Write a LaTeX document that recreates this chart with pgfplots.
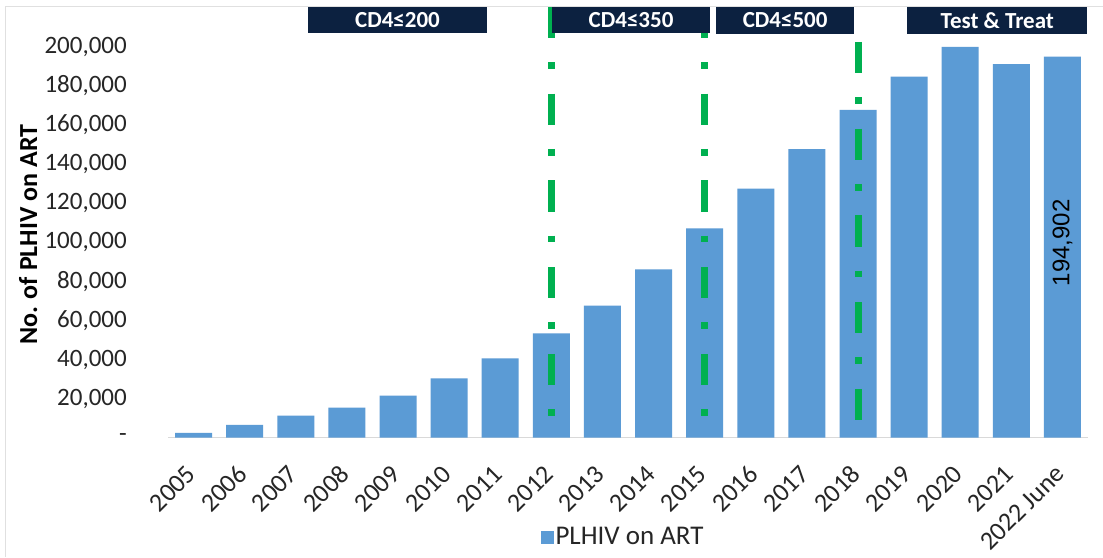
\documentclass[border=0pt]{standalone}
\usepackage{fontspec}
\setmainfont{Carlito}
\newfontfamily\arialfont{Liberation Sans}
\usepackage{pgfplots}
\pgfplotsset{compat=1.18}
\definecolor{barblue}{HTML}{5B9BD5}
\definecolor{navy}{HTML}{0C2140}
\definecolor{ggreen}{HTML}{00B050}
\begin{document}
\begin{tikzpicture}
\path[use as bounding box] (0,0) rectangle (1103pt,557pt);
\fill[white] (0,0) rectangle (1103pt,557pt);
\draw[black!12, line width=1pt] (5pt,0) -- (5pt,550pt) -- (1103pt,550pt);
\begin{axis}[
  at={(168pt,119.3pt)}, anchor=south west,
  width=920pt, height=410.6pt, scale only axis,
  xmin=-0.5, xmax=17.5, ymin=0, ymax=210000,
  clip=false,
  ybar, bar width=37pt,
  axis x line*=bottom, axis y line*=left,
  y axis line style={draw=none},
  x axis line style={draw=black!15, line width=1.5pt},
  major tick length=0pt,
  scaled y ticks=false,
  /pgf/number format/assume math mode=true,
  ytick={0,20000,...,200000},
  yticklabels={{-\hspace{5pt}},{20,000},{40,000},{60,000},{80,000},{100,000},{120,000},{140,000},{160,000},{180,000},{200,000}},
  yticklabel style={font=\fontsize{25}{30}\selectfont, color=black!85, anchor=east, inner sep=0pt, xshift=-41pt},
  xtick={0,...,17},
  xticklabels={2005,2006,2007,2008,2009,2010,2011,2012,2013,2014,2015,2016,2017,2018,2019,2020,2021,2022 June},
  xticklabel style={font=\fontsize{26}{30}\selectfont, color=black!85, xshift=-2.3pt, yshift=-32pt, rotate=45, anchor=east, inner sep=0pt},
  ylabel={\textbf{No. of PLHIV on ART}},
  ylabel style={font=\fontsize{26}{30}\selectfont, at={(axis description cs:-0.152,0.494)}, anchor=center},
  legend style={at={(axis description cs:0.4946,-0.242)}, anchor=center, draw=none, fill=none, font=\fontsize{27}{32}\selectfont, text=black!85},
  legend image code/.code={\fill[barblue] (0pt,-7pt) rectangle (13pt,6pt);},
]
\addplot[fill=barblue, draw=none] coordinates {
(0,2500) (1,6500) (2,11250) (3,15350) (4,21500) (5,30400) (6,40600) (7,53400) (8,67500)
(9,86100) (10,107100) (11,127400) (12,147600) (13,167600) (14,184650) (15,199900) (16,191000) (17,194902)
};
\addlegendentry{PLHIV on ART}
\tikzset{gl/.style={draw=ggreen, line width=7pt, dash pattern=on 31.3pt off 24pt on 6.7pt off 24.7pt}}
\draw[gl] (axis cs:7,220300) -- (axis cs:7,10600);
\draw[gl] (axis cs:10,220300) -- (axis cs:10,10600);
\draw[gl] (axis cs:13,202400) -- (axis cs:13,9000);
\fill[navy] (axis cs:2.24,220300) rectangle (axis cs:5.74,206800);
\fill[navy] (axis cs:7.01,220300) rectangle (axis cs:10.11,206800);
\fill[navy] (axis cs:10.22,220300) rectangle (axis cs:12.93,206600);
\fill[navy] (axis cs:13.96,220300) rectangle (axis cs:17.49,206600);
\node[text=white, font=\bfseries\fontsize{23}{26}\selectfont] at (axis cs:3.99,213550) {CD4≤200};
\node[text=white, font=\bfseries\fontsize{23}{26}\selectfont] at (axis cs:8.56,213550) {CD4≤350};
\node[text=white, font=\bfseries\fontsize{23}{26}\selectfont] at (axis cs:11.575,213450) {CD4≤500};
\node[text=white, font=\bfseries\fontsize{23}{26}\selectfont] at (axis cs:15.725,213450) {Test \& Treat};
\node[rotate=90, font=\arialfont\fontsize{24}{28}\selectfont, text=black] at (axis cs:17,99600) {194,902};
\end{axis}
\end{tikzpicture}
\end{document}
